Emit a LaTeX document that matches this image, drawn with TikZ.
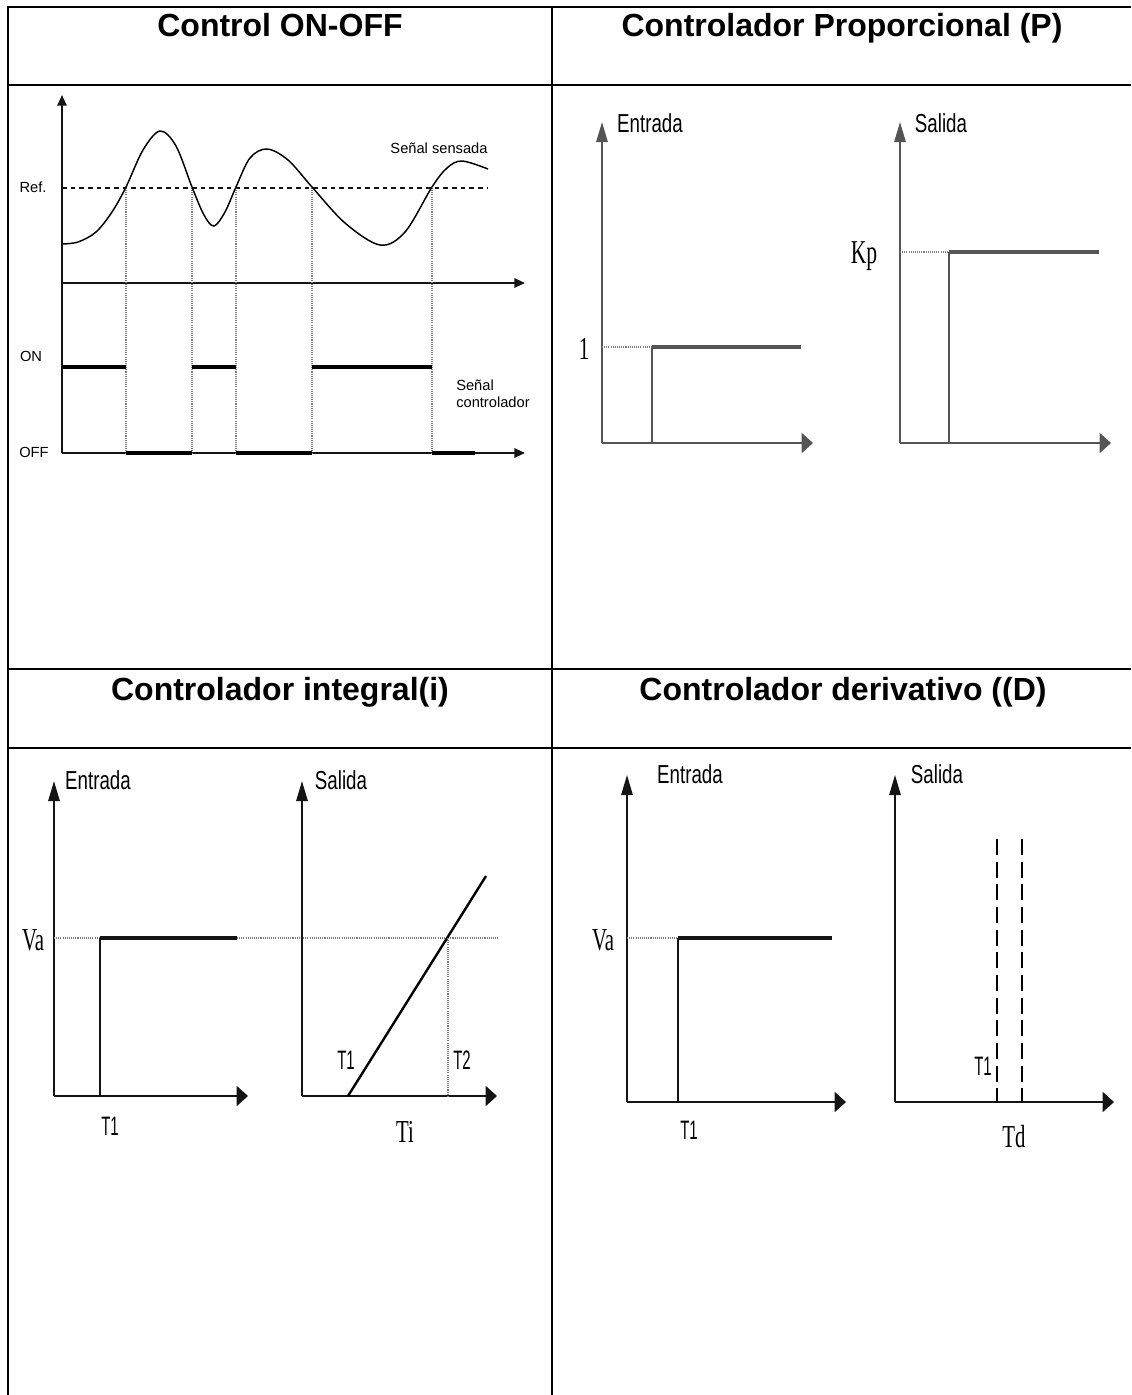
\documentclass[tikz,border=0pt]{standalone}
\usepackage{fontspec}
\setmainfont{Liberation Sans}
\newfontfamily\axfont[FakeStretch=0.72]{Liberation Sans}
\newfontfamily\tfont[FakeStretch=0.56]{Liberation Sans}
\newfontfamily\valfont[FakeStretch=0.65]{Liberation Serif}
\usepackage{tikz}
\usetikzlibrary{arrows.meta, positioning}
\definecolor{mydark}{RGB}{20,20,20}
\definecolor{mygray}{RGB}{85,85,85}
\definecolor{mydots}{RGB}{125,125,125}
\tikzset{
  tablerule/.style={line width=1.5pt, color=black},
  axis/.style={line width=1.4pt, color=mydark},
  smallup/.style={axis, -{Triangle[length=8pt, width=7pt]}},
  upaxis/.style={axis, -{Triangle[length=15pt, width=8.5pt]}},
  rtaxis/.style={axis, -{Triangle[length=8.5pt, width=15pt]}},
  guide/.style={color=mydots, line width=0.8pt, dash pattern=on 0.8pt off 0.8pt},
  refline/.style={color=mydark, line width=0.8pt, dash pattern=on 3.5pt off 3pt},
  onoff/.style={line width=3pt, color=black},
  stepline/.style={line width=2.3pt, color=mydark},
  pulse/.style={line width=1.6pt, color=black, dash pattern=on 12pt off 5pt},
  title/.style={font=\fontsize{24}{28}\selectfont\bfseries, inner sep=0pt, anchor=base},
  smalllbl/.style={font=\fontsize{11}{13}\selectfont, inner sep=0pt},
  axlbl/.style={font=\axfont\fontsize{19.5}{22}\selectfont, inner sep=0pt},
  tlbl/.style={font=\tfont\fontsize{20}{23}\selectfont, inner sep=0pt},
  vallbl/.style={font=\valfont\fontsize{24}{28}\selectfont, inner sep=0pt}
}
\begin{document}
\begin{tikzpicture}[x=0.75pt, y=-0.75pt]
  \useasboundingbox (0,0) rectangle (1131,1395);

  % table
  \draw[tablerule] (8,7) -- (1131,7);
  \draw[tablerule] (8,85) -- (1131,85);
  \draw[tablerule] (8,669) -- (1131,669);
  \draw[tablerule] (8,748) -- (1131,748);
  \draw[tablerule] (8,6.25) -- (8,1395);
  \draw[tablerule] (552,7) -- (552,1395);

  \node[title] (onofftitle) at (280,37) {Control ON-OFF};
  \node[title] (ptitle) at (842,37) {Controlador Proporcional (P)};
  \node[title] (ititle) at (280,700) {Controlador integral(i)};
  \node[title] (dtitle) at (843,700) {Controlador derivativo ((D)};

  % ON-OFF
  \coordinate (ontop) at (62,95);
  \coordinate (onmid) at (62,283);
  \coordinate (onmidend) at (525,283);
  \coordinate (onoff) at (62,453);
  \coordinate (onoffend) at (525,453);
  \coordinate (refstart) at (62,188);
  \coordinate (refend) at (488,188);
  \draw[smallup] (onoff) -- (ontop);
  \draw[smallup] (onmid) -- (onmidend);
  \draw[smallup] (onoff) -- (onoffend);
  \draw[refline] (refstart) -- (refend);
  \foreach \x in {126,192,236,312,432}
    \draw[guide] (\x,188) -- (\x,453);
  \foreach \a/\b in {62/126,192/236,312/432}
    \draw[onoff] (\a,367) -- (\b,367);
  \foreach \a/\b in {126/192,236/312,432/475}
    \draw[onoff] (\a,453) -- (\b,453);
  \draw[line width=1.1pt] plot[smooth, tension=0.55] coordinates {
    (62,244) (78,242) (96,232) (112,212) (126,187) (143,150) (160,131)
    (176,146) (192,187) (204,215) (214,226) (225,212) (236,187) (250,158)
    (267,149) (288,160) (312,187) (345,223) (380,245) (405,232) (432,187)
    (447,168) (462,161) (488,169)};
  \node[smalllbl] (reflbl) at (33,187) {Ref.};
  \node[smalllbl] (onlbl) at (31,356) {ON};
  \node[smalllbl] (offlbl) at (34,452) {OFF};
  \node[smalllbl] (sensada) at (439,148) {Señal sensada};
  \node[smalllbl, anchor=west, align=left] (controlador) at (456,394) {Señal\\controlador};

  % P
  \coordinate (pin0) at (602,443);
  \coordinate (pintop) at (602,122);
  \coordinate (pinend) at (813,443);
  \coordinate (pinstep) at (652,443);
  \coordinate (pinup) at (652,347);
  \coordinate (pinlvl) at (602,347);
  \coordinate (pinhold) at (801,347);
  \draw[upaxis, color=mygray] (pin0) -- (pintop);
  \draw[rtaxis, color=mygray] (pin0) -- (pinend);
  \draw[guide] (pinlvl) -- (pinup);
  \draw[axis, color=mygray] (pinstep) -- (pinup);
  \draw[stepline, color=mygray] (pinup) -- (pinhold);
  \node[axlbl] (pentrada) at (650,123) {Entrada};
  \node[vallbl] (pone) at (584,349) {1};

  \coordinate (pout0) at (900,443);
  \coordinate (pouttop) at (900,122);
  \coordinate (poutend) at (1111,443);
  \coordinate (poutstep) at (949,443);
  \coordinate (poutup) at (949,252);
  \coordinate (poutlvl) at (900,252);
  \coordinate (pouthold) at (1099,252);
  \draw[upaxis, color=mygray] (pout0) -- (pouttop);
  \draw[rtaxis, color=mygray] (pout0) -- (poutend);
  \draw[guide] (poutlvl) -- (poutup);
  \draw[axis, color=mygray] (poutstep) -- (poutup);
  \draw[stepline, color=mygray] (poutup) -- (pouthold);
  \node[axlbl] (psalida) at (941,123) {Salida};
  \node[vallbl, font=\valfont\fontsize{25}{28}\selectfont] (pkp) at (864,256) {Kp};

  % I
  \coordinate (iin0) at (54,1096);
  \coordinate (iintop) at (54,781);
  \coordinate (iinend) at (248,1096);
  \coordinate (iinstep) at (100,1096);
  \coordinate (iinup) at (100,938);
  \coordinate (iinlvl) at (54,938);
  \coordinate (iinhold) at (237,938);
  \coordinate (ilvlend) at (499,938);
  \draw[upaxis] (iin0) -- (iintop);
  \draw[rtaxis] (iin0) -- (iinend);
  \draw[guide] (iinlvl) -- (iinup);
  \draw[guide] (iinhold) -- (ilvlend);
  \draw[axis] (iinstep) -- (iinup);
  \draw[stepline] (iinup) -- (iinhold);
  \node[axlbl] (ientrada) at (98,780) {Entrada};
  \node[vallbl] (iva) at (33,940) {Va};
  \node[tlbl] (it1) at (110,1126) {T1};

  \coordinate (iout0) at (302,1096);
  \coordinate (iouttop) at (302,781);
  \coordinate (ioutend) at (497,1096);
  \coordinate (irampstart) at (348,1096);
  \coordinate (irampend) at (486,876);
  \coordinate (icross) at (448,938);
  \coordinate (icrossbase) at (448,1096);
  \draw[upaxis] (iout0) -- (iouttop);
  \draw[rtaxis] (iout0) -- (ioutend);
  \draw[line width=1.8pt] (irampstart) -- (irampend);
  \draw[guide] (icross) -- (icrossbase);
  \node[axlbl] (isalida) at (341,780) {Salida};
  \node[tlbl] (iramp1) at (346,1060) {T1};
  \node[tlbl] (iramp2) at (462,1060) {T2};
  \node[vallbl] (iti) at (405,1132) {Ti};

  % D
  \coordinate (din0) at (627,1102);
  \coordinate (dintop) at (627,775);
  \coordinate (dinend) at (846,1102);
  \coordinate (dinstep) at (678,1102);
  \coordinate (dinup) at (678,938);
  \coordinate (dinlvl) at (627,938);
  \coordinate (dinhold) at (832,938);
  \draw[upaxis] (din0) -- (dintop);
  \draw[rtaxis] (din0) -- (dinend);
  \draw[guide] (dinlvl) -- (dinup);
  \draw[axis] (dinstep) -- (dinup);
  \draw[stepline] (dinup) -- (dinhold);
  \node[axlbl] (dentrada) at (690,774) {Entrada};
  \node[vallbl] (dva) at (603,940) {Va};
  \node[tlbl] (dt1) at (689,1130) {T1};

  \coordinate (dout0) at (895,1102);
  \coordinate (douttop) at (895,775);
  \coordinate (doutend) at (1114,1102);
  \coordinate (dpulsea) at (997,839);
  \coordinate (dpulseabase) at (997,1102);
  \coordinate (dpulseb) at (1022,839);
  \coordinate (dpulsebbase) at (1022,1102);
  \draw[upaxis] (dout0) -- (douttop);
  \draw[rtaxis] (dout0) -- (doutend);
  \draw[pulse] (dpulsea) -- (dpulseabase);
  \draw[pulse] (dpulseb) -- (dpulsebbase);
  \node[axlbl] (dsalida) at (937,774) {Salida};
  \node[tlbl] (dt1out) at (983,1066) {T1};
  \node[vallbl] (dtd) at (1014,1137) {Td};
\end{tikzpicture}
\end{document}
